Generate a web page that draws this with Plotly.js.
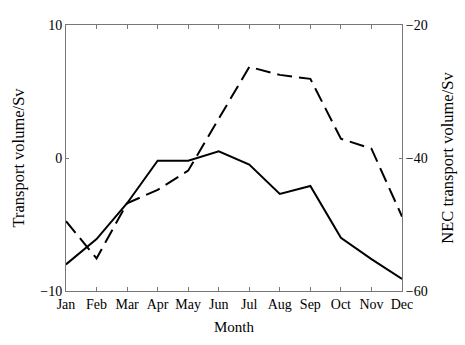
<!DOCTYPE html>
<html>
<head>
<meta charset="utf-8">
<script src="https://cdn.plot.ly/plotly-3.0.1.min.js"></script>
<style>html,body{margin:0;padding:0;background:#fff;}#chart{width:465px;height:345px;}</style>
</head>
<body>
<div id="chart"></div>
<script>
var months = ["Jan","Feb","Mar","Apr","May","Jun","Jul","Aug","Sep","Oct","Nov","Dec"];
var transport = [-8.0, -6.1, -3.4, -0.2, -0.2, 0.5, -0.5, -2.7, -2.1, -6.0, -7.6, -9.1];
var necTransport = [-49.5, -55.1, -46.8, -44.8, -41.9, -34.0, -26.3, -27.5, -28.1, -37.1, -38.6, -48.8];

var font = {family: "Liberation Serif, Times New Roman, serif", size: 14, color: "#000"};
var yTitleFont = {family: "Liberation Serif, Times New Roman, serif", size: 16.5, color: "#000"};
var axisColor = "#777";

var traces = [
  {x: months, y: transport, type: "scatter", mode: "lines", name: "Transport",
   line: {color: "#000", width: 2}, yaxis: "y"},
  {x: months, y: necTransport, type: "scatter", mode: "lines", name: "NEC",
   line: {color: "#000", width: 2, dash: "15px,7px"}, yaxis: "y2"}
];

var layout = {
  width: 465, height: 345,
  margin: {l: 66, r: 63, t: 25, b: 54},
  paper_bgcolor: "#fff", plot_bgcolor: "#fff",
  showlegend: false,
  font: font,
  xaxis: {
    type: "category", range: [0, 11],
    showline: true, linecolor: axisColor, linewidth: 1, mirror: "ticks",
    ticks: "inside", ticklen: 4, tickcolor: axisColor,
    showgrid: false, zeroline: false,
    tickfont: font,
    title: {text: "Month", font: {family: font.family, size: 15, color: "#000"}, standoff: 10}
  },
  yaxis: {
    range: [-10, 10], dtick: 10, tick0: 0,
    showline: true, linecolor: axisColor, linewidth: 1,
    ticks: "inside", ticklen: 3, tickcolor: axisColor,
    showgrid: false, zeroline: false,
    tickfont: font,
    title: {text: "Transport volume/Sv", font: yTitleFont, standoff: 11}
  },
  yaxis2: {
    range: [-60, -20], dtick: 20, tick0: -60,
    overlaying: "y", side: "right",
    showline: true, linecolor: axisColor, linewidth: 1,
    ticks: "inside", ticklen: 3, tickcolor: axisColor,
    showgrid: false, zeroline: false,
    tickfont: font,
    title: {text: "NEC transport volume/Sv", font: yTitleFont, standoff: 14}
  }
};

Plotly.newPlot("chart", traces, layout, {staticPlot: true, displayModeBar: false});
</script>
</body>
</html>
